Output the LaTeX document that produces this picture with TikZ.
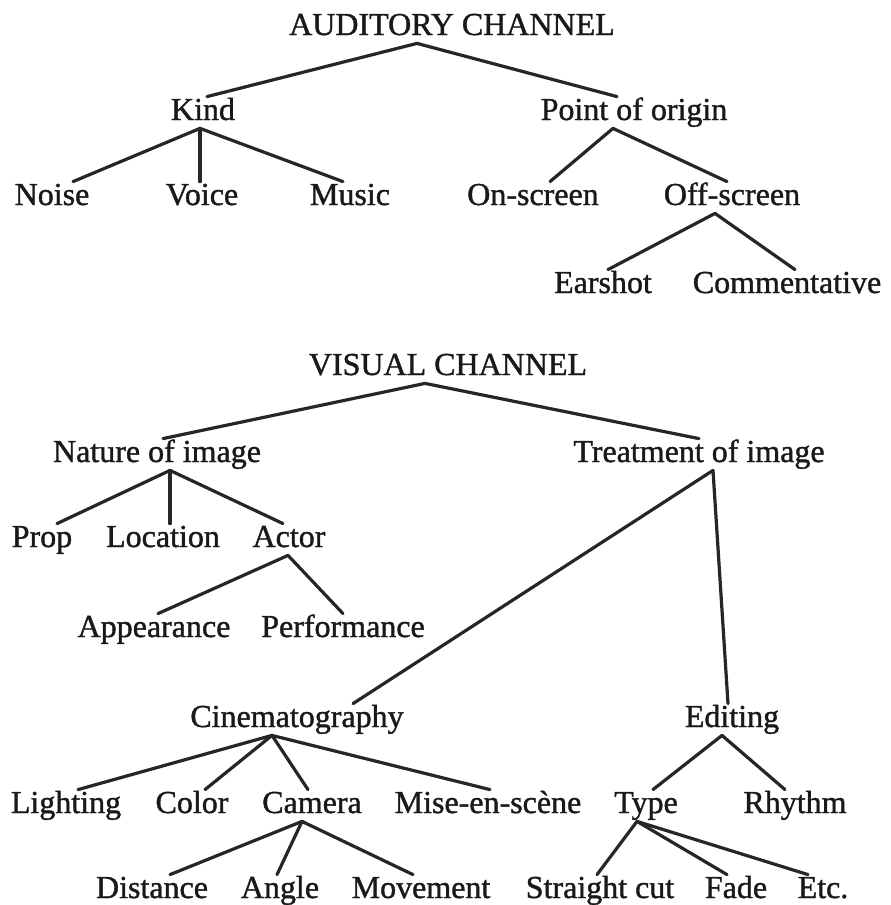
\documentclass[tikz,border=0pt]{standalone}
\usepackage{fontspec}
\setmainfont{Liberation Serif}[BoldFont={Liberation Serif},BoldFeatures={FakeBold=1.2}]
\usepackage{tikz}
\usetikzlibrary{calc}
\newcommand{\branch}[4]{\draw[twig] ($(#1.south)+(#2,0)$) -- ($(#3.north)+(#4,0)$);}

\begin{document}
\begin{tikzpicture}[x=0.5pt,y=-0.5pt,
  lbl/.style={anchor=base,inner sep=0.5pt,text height=11pt,text depth=3.5pt,
    font=\fontsize{16}{19}\selectfont\bfseries,text=black!90},
  twig/.style={line width=1.6pt,draw=black!85,line cap=round}]
  \useasboundingbox (0,0) rectangle (890,905);
  % auditory channel
  \node[lbl] (aud) at (452,35) {AUDITORY CHANNEL};
  \node[lbl] (kind) at (203,120) {Kind};
  \node[lbl] (origin) at (634,120) {Point of origin};
  \node[lbl] (noise) at (52,205) {Noise};
  \node[lbl] (voice) at (202,205) {Voice};
  \node[lbl] (music) at (350,205) {Music};
  \node[lbl] (onscreen) at (533,205) {On-screen};
  \node[lbl] (offscreen) at (732,205) {Off-screen};
  \node[lbl] (earshot) at (603,293) {Earshot};
  \node[lbl] (comment) at (787,293) {Commentative};
  \branch{aud}{-35}{kind}{4}
  \branch{aud}{-35}{origin}{-17}
  \branch{kind}{-3}{noise}{21}
  \branch{kind}{-3}{voice}{-2}
  \branch{kind}{-3}{music}{-7}
  \branch{origin}{-21}{onscreen}{17}
  \branch{origin}{-21}{offscreen}{-5}
  \branch{offscreen}{-17}{earshot}{5}
  \branch{offscreen}{-17}{comment}{8}
  % visual channel
  \node[lbl] (vis) at (448,375) {VISUAL CHANNEL};
  \node[lbl] (nature) at (157,462) {Nature of image};
  \node[lbl] (treatment) at (699,462) {Treatment of image};
  \node[lbl] (prop) at (42,547) {Prop};
  \node[lbl] (location) at (163,547) {Location};
  \node[lbl] (actor) at (289,547) {Actor};
  \node[lbl] (appear) at (154,637) {Appearance};
  \node[lbl] (perform) at (343,637) {Performance};
  \node[lbl] (cinema) at (297,727) {Cinematography};
  \node[lbl] (editing) at (732,727) {Editing};
  \node[lbl] (lighting) at (66,813) {Lighting};
  \node[lbl] (color) at (192,813) {Color};
  \node[lbl] (camera) at (312,813) {Camera};
  \node[lbl] (mise) at (488,813) {Mise-en-scène};
  \node[lbl] (type) at (646,813) {Type};
  \node[lbl] (rhythm) at (795,813) {Rhythm};
  \node[lbl] (distance) at (152,898) {Distance};
  \node[lbl] (angle) at (280,898) {Angle};
  \node[lbl] (movement) at (421,898) {Movement};
  \node[lbl] (straight) at (600,898) {Straight cut};
  \node[lbl] (fade) at (736,898) {Fade};
  \node[lbl] (etc) at (823,898) {Etc.};
  \branch{vis}{-23}{nature}{6}
  \branch{vis}{-23}{treatment}{0}
  \branch{nature}{13}{prop}{15}
  \branch{nature}{13}{location}{7}
  \branch{nature}{13}{actor}{-6}
  \branch{actor}{-1}{appear}{4}
  \branch{actor}{-1}{perform}{0}
  \branch{treatment}{14}{cinema}{56}
  \branch{treatment}{14}{editing}{-4}
  \branch{cinema}{-25}{lighting}{12}
  \branch{cinema}{-25}{color}{13}
  \branch{cinema}{-25}{camera}{-4}
  \branch{cinema}{-25}{mise}{2}
  \branch{editing}{-10}{type}{7}
  \branch{editing}{-10}{rhythm}{-10}
  \branch{camera}{-10}{distance}{18}
  \branch{camera}{-10}{angle}{-3}
  \branch{camera}{-10}{movement}{-8}
  \branch{type}{-9}{straight}{-3}
  \branch{type}{-9}{fade}{-9}
  \branch{type}{-9}{etc}{-15}
\end{tikzpicture}
\end{document}
